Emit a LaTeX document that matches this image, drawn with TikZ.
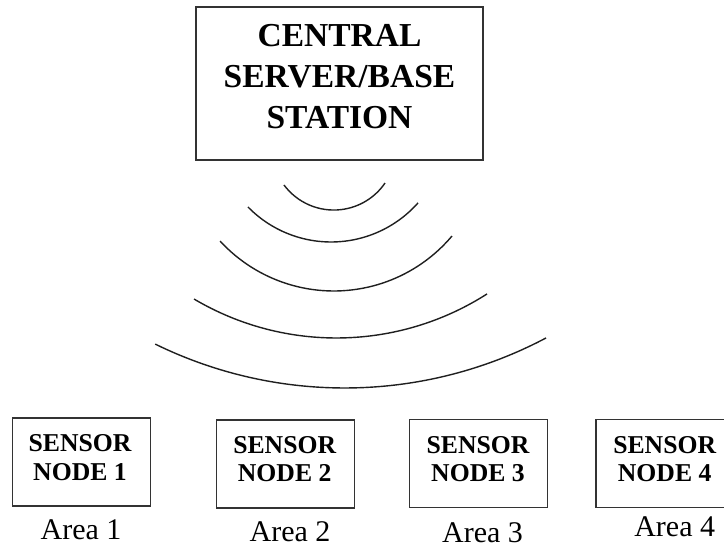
\documentclass[tikz,border=0pt]{standalone}
\usepackage{fontspec}
\setmainfont{Liberation Serif}
\begin{document}
\begin{tikzpicture}[x=1pt,y=1pt,
  boxst/.style={draw=black!80, line width=1.1pt, inner sep=0pt},
  sensorbox/.style={boxst, minimum width=138pt, minimum height=88pt},
  centraltext/.style={font=\fontsize{33.5}{41}\selectfont\bfseries, align=center, inner sep=0pt},
  sensortext/.style={font=\fontsize{25.7}{28.5}\selectfont\bfseries, align=center, inner sep=0pt},
  areatext/.style={font=\fontsize{30}{36}\selectfont, inner sep=0pt, anchor=base},
  wave/.style={line width=1.4pt, draw=black!88}]
\useasboundingbox (0,0) rectangle (724,-548);
\clip (0,0) rectangle (724,-548);

% central server
\node[boxst, minimum width=287pt, minimum height=153pt] (cs) at (339.5,-83.5) {};
\node[centraltext] (cst) at (339.5,-76.7) {CENTRAL\\SERVER/BASE\\STATION};

% radio waves
\coordinate (w1) at (333.8,-148.0);
\coordinate (w2) at (331.1,-125.8);
\coordinate (w3) at (333.8,-136.5);
\coordinate (w4) at (336.4,-58.4);
\coordinate (w5) at (344.6,42.5);
\draw[wave] (w1) ++(216.6:62.05pt) arc[start angle=216.6, end angle=325.6, radius=62.05pt];
\draw[wave] (w2) ++(224.3:116.2pt) arc[start angle=224.3, end angle=318.4, radius=116.2pt];
\draw[wave] (w3) ++(222.6:154.5pt) arc[start angle=222.6, end angle=319.9, radius=154.5pt];
\draw[wave] (w4) ++(239.4:279.6pt) arc[start angle=239.4, end angle=302.6, radius=279.6pt];
\draw[wave] (w5) ++(243.9:430.5pt) arc[start angle=243.9, end angle=297.9, radius=430.5pt];

% sensor nodes
\node[sensorbox] (s1) at (81.7,-462) {};
\node[sensortext] (s1t) at (80,-457.5) {SENSOR\\NODE 1};
\node[sensorbox] (s2) at (285.5,-464) {};
\node[sensortext] (s2t) at (284.7,-459.2) {SENSOR\\NODE 2};
\node[sensorbox] (s3) at (478.3,-463.8) {};
\node[sensortext] (s3t) at (478,-459.2) {SENSOR\\NODE 3};
\node[sensorbox] (s4) at (665,-463.5) {};
\node[sensortext] (s4t) at (664.7,-459.2) {SENSOR\\NODE 4};

% area labels
\node[areatext] (a1) at (81,-539.3) {Area 1};
\node[areatext] (a2) at (290,-541.2) {Area 2};
\node[areatext] (a3) at (482.5,-542) {Area 3};
\node[areatext] (a4) at (674.7,-536.7) {Area 4};
\end{tikzpicture}
\end{document}
